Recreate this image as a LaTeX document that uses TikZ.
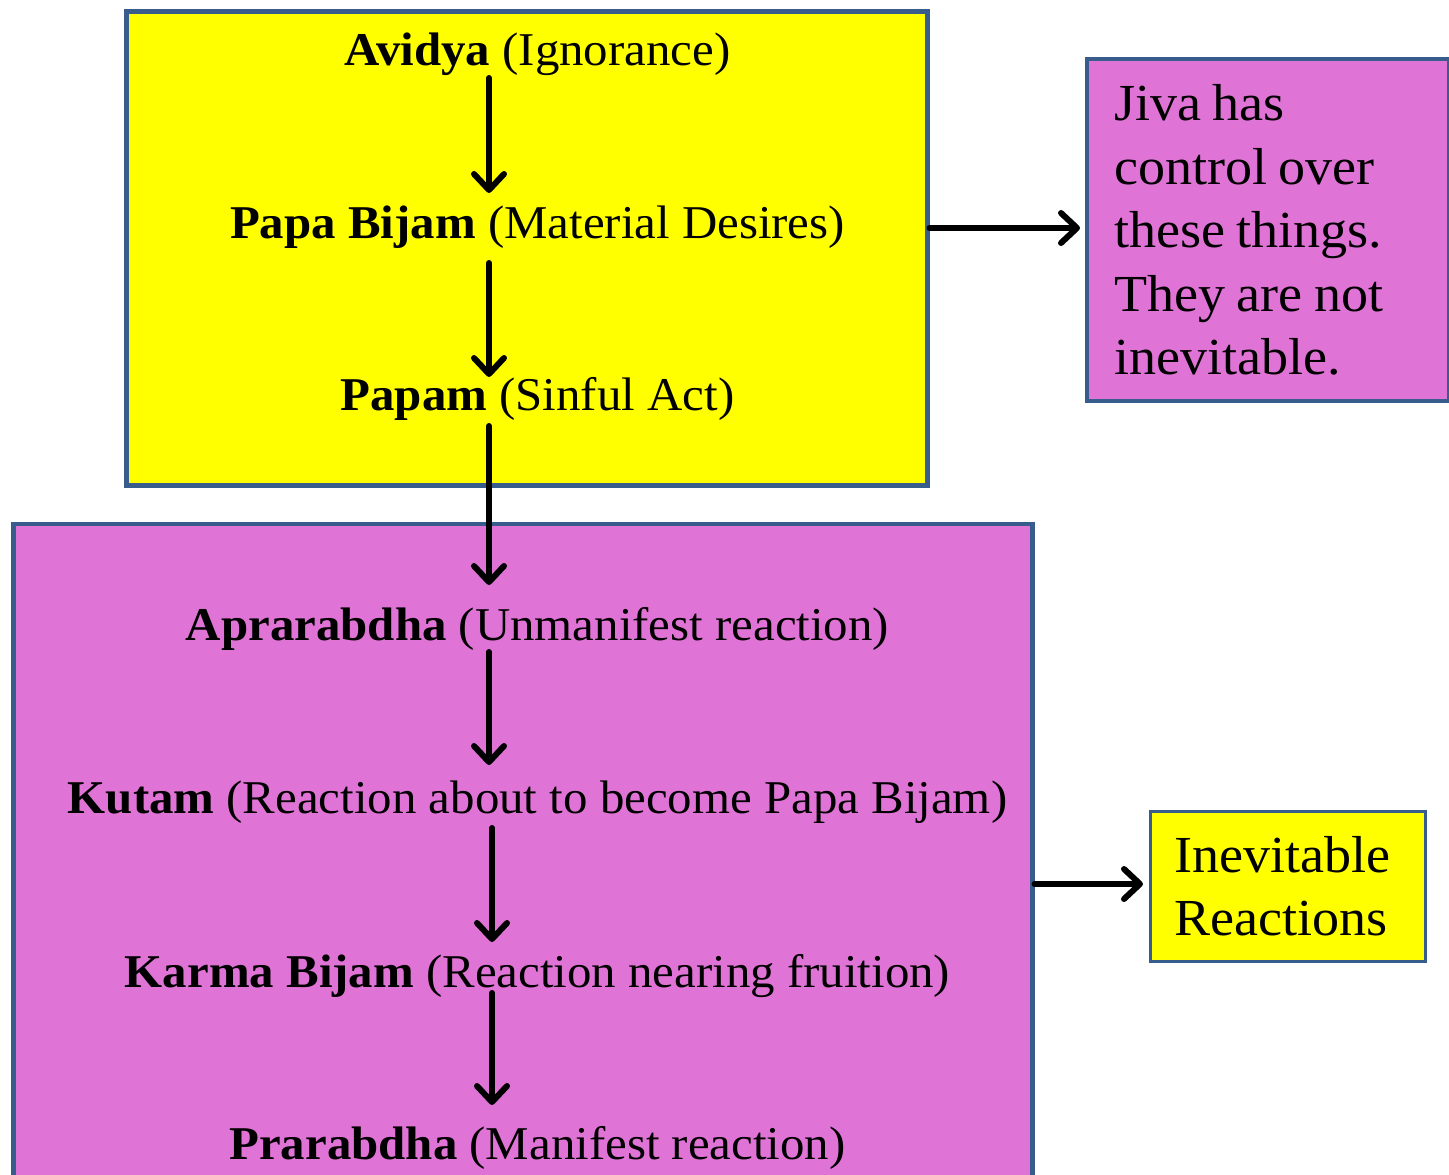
\documentclass[tikz,border=0pt]{standalone}
\usepackage{fontspec}
\setmainfont{Liberation Serif}[FakeStretch=1.04]
\usetikzlibrary{arrows.meta,calc}
\definecolor{boxblue}{RGB}{56,93,140}
\definecolor{pinkfill}{RGB}{224,116,214}
\definecolor{yellowfill}{RGB}{255,255,0}
\newcommand\tightspacing{\spaceskip=0.22em plus 0.05em\relax}
\tikzset{
  panel/.style={draw=boxblue, line width=4.5pt, inner sep=0pt, anchor=north west},
  lbl/.style={anchor=base, inner sep=0pt, font=\fontsize{47}{56}\selectfont},
  sidebox/.style={draw=boxblue, anchor=north west, align=left, inner ysep=0pt,
    font=\fontsize{52}{63.5}\selectfont},
  arr/.style={line width=6pt, line cap=round,
    -{Straight Barb[length=16pt,width=30pt,line cap=round,line join=round]}}
}
\begin{document}
\begin{tikzpicture}[x=1pt,y=-1pt]
\useasboundingbox (0,0) rectangle (1449,1175);
% boxes
\node[panel, fill=yellowfill, minimum width=801pt, minimum height=474pt] (ybox) at (124,9) {};
\begin{scope}
\clip (0,0) rectangle (1449,1175);
\node[panel, fill=pinkfill, minimum width=1019pt, minimum height=700pt] (pbox) at (11,521.5) {};
\end{scope}
\node[sidebox, fill=pinkfill, line width=4pt, inner xsep=27pt, text width=308pt, minimum height=342pt] (jiva) at (1085,57)
  {\tightspacing Jiva has\\control over\\these things.\\They are not\\inevitable.};
\node[sidebox, fill=yellowfill, line width=2.5pt, inner xsep=24pt, text width=227pt, minimum height=150pt] (inev) at (1149,810)
  {Inevitable\\Reactions};
% texts
\node[lbl] (avidya) at (537.5,65) {\textbf{Avidya} (Ignorance)};
\node[lbl] (papa) at (537.5,238) {\textbf{Papa Bijam} (Material Desires)};
\node[lbl] (papam) at (537.5,410) {\textbf{Papam} (Sinful Act)};
\node[lbl] (apra) at (537.5,640) {\textbf{Aprarabdha} (Unmanifest reaction)};
\node[lbl] (kutam) at (537.5,813) {\textbf{Kutam} (Reaction about to become Papa Bijam)};
\node[lbl] (karma) at (537.5,987) {\textbf{Karma Bijam} (Reaction nearing fruition)};
\node[lbl] (prar) at (537.5,1159) {\textbf{Prarabdha} (Manifest reaction)};
% arrows
\coordinate (colA) at (489,0);
\coordinate (colB) at (492,0);
\coordinate (rowA) at (0,228);
\coordinate (rowB) at (0,884);
\draw[arr] ($(avidya.base -| colA)+(0,13)$) -- ($(papa.base -| colA)+(0,-45)$);
\draw[arr] ($(papa.base -| colA)+(0,25)$) -- ($(papam.base -| colA)+(0,-33)$);
\draw[arr] ($(papam.base -| colA)+(0,16)$) -- ($(apra.base -| colA)+(0,-55)$);
\draw[arr] ($(apra.base -| colA)+(0,12)$) -- ($(kutam.base -| colA)+(0,-48)$);
\draw[arr] ($(kutam.base -| colB)+(0,15)$) -- ($(karma.base -| colB)+(0,-45)$);
\draw[arr] ($(karma.base -| colB)+(0,6)$) -- ($(prar.base -| colB)+(0,-54)$);
\draw[arr, shorten >=5pt] (ybox.east |- rowA) -- (jiva.west |- rowA);
\draw[arr, shorten >=6pt] (pbox.east |- rowB) -- (inev.west |- rowB);
\end{tikzpicture}
\end{document}
